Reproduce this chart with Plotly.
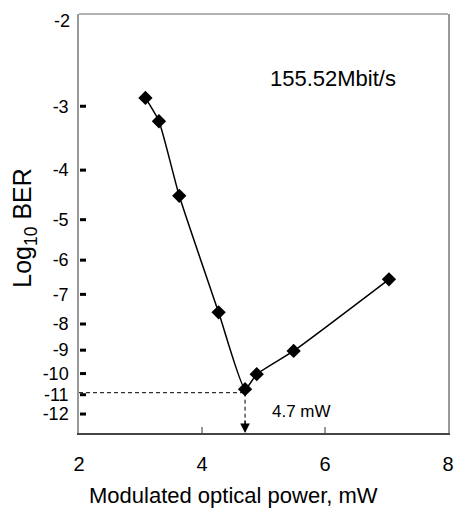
import plotly.graph_objects as go
import numpy as np

# Data: modulated optical power (mW) vs Log10 BER
power_mw = [3.08, 3.30, 3.63, 4.27, 4.70, 4.89, 5.49, 7.04]
log10_ber = [-2.89, -3.21, -4.49, -7.59, -10.73, -10.03, -9.03, -6.54]

ytick_vals = [-3, -4, -5, -6, -7, -8, -9, -10, -11, -12]
xtick_vals = [2, 4, 6, 8]
threshold_power = 4.7
threshold_ber = -10.9

FONT = "Liberation Sans, Arial, Helvetica, sans-serif"

# the axis is a log(-log BER) scale
y_plot = [-v for v in log10_ber]
y_top, y_bottom = 1.98, 13.07
yrange = [np.log10(y_bottom), np.log10(y_top)]
x_min, x_max = 2, 8

# plot area size in px (for tick-mark lengths)
W, H = 457, 508
ML, MR, MT, MB = 79, 9, 14, 75
px_per_x = (W - ML - MR) / (x_max - x_min)
px_per_logy = (H - MT - MB) / (yrange[0] - yrange[1])

fig = go.Figure()

# dashed guide lines
fig.add_trace(go.Scatter(x=[x_min, threshold_power], y=[-threshold_ber, -threshold_ber],
                         mode="lines", line=dict(color="black", width=1, dash="4px,3px"),
                         hoverinfo="skip", showlegend=False, cliponaxis=False))
fig.add_trace(go.Scatter(x=[threshold_power, threshold_power], y=[-threshold_ber, y_bottom],
                         mode="lines", line=dict(color="black", width=1, dash="4px,3px"),
                         hoverinfo="skip", showlegend=False, cliponaxis=False))

# inside tick marks on the y axis (thick, black)
ytx, yty = [], []
for v in ytick_vals:
    ytx += [x_min + 1 / px_per_x, x_min + 7 / px_per_x, None]
    yty += [-v, -v, None]
fig.add_trace(go.Scatter(x=ytx, y=yty, mode="lines", line=dict(color="black", width=3),
                         hoverinfo="skip", showlegend=False))
# inside tick marks on the x axis (thin)
xtx, xty = [], []
for v in xtick_vals[1:-1]:
    xtx += [v, v, None]
    xty += [y_bottom, 10 ** (yrange[0] - 6 / px_per_logy), None]
fig.add_trace(go.Scatter(x=xtx, y=xty, mode="lines", line=dict(color="#333", width=1),
                         hoverinfo="skip", showlegend=False))

fig.add_trace(go.Scatter(x=power_mw, y=y_plot, mode="lines+markers",
                         line=dict(color="black", width=1.5, shape="spline", smoothing=0.5),
                         marker=dict(symbol="diamond", size=11, color="black"),
                         showlegend=False, cliponaxis=False))

# arrowhead at x-axis
fig.add_annotation(x=threshold_power, y=0, xref="x", yref="paper",
                   ax=0, ay=-14, axref="pixel", ayref="pixel",
                   showarrow=True, arrowhead=2, arrowsize=1.6, arrowwidth=1.2,
                   arrowcolor="black", text="")

ann = dict(xref="paper", yref="paper", showarrow=False, xanchor="center", yanchor="middle")
fig.add_annotation(x=0.604, y=0.0525, text="4.7 mW",
                   font=dict(family=FONT, size=17, color="black"), **ann)
fig.add_annotation(x=0.688, y=0.847, text="155.52Mbit/s",
                   font=dict(family=FONT, size=22, color="black"), **ann)
fig.add_annotation(x=-0.149, y=0.49, text="Log<sub>10</sub> BER", textangle=-90,
                   font=dict(family=FONT, size=25, color="black"), **ann)
fig.add_annotation(x=0.418, y=-0.148, text="Modulated optical power, mW",
                   font=dict(family=FONT, size=22, color="black"), **ann)
fig.add_annotation(x=-0.019, y=0.983, text="-2", xref="paper", yref="paper",
                   showarrow=False, xanchor="right", yanchor="middle",
                   font=dict(family=FONT, size=18, color="black"))

# top border (gray)
fig.add_shape(type="line", xref="paper", yref="paper", x0=0, x1=1, y0=1, y1=1,
              line=dict(color="#999999", width=1.5))

fig.update_layout(
    width=W, height=H, margin=dict(l=ML, r=MR, t=MT, b=MB),
    plot_bgcolor="white", paper_bgcolor="white",
    xaxis=dict(range=[x_min, x_max], tickvals=xtick_vals, ticktext=[str(v) for v in xtick_vals],
               showgrid=False, zeroline=False, automargin=False, ticks="",
               ticklabelstandoff=12,
               showline=True, linecolor="#444", linewidth=1.5,
               tickfont=dict(family=FONT, size=20, color="black")),
    yaxis=dict(type="log", range=yrange, tickvals=[-v for v in ytick_vals],
               ticktext=[str(v) for v in ytick_vals],
               showgrid=False, zeroline=False, automargin=False, ticks="",
               ticklabelstandoff=5,
               showline=True, linecolor="#999999", linewidth=1.5, mirror=True,
               tickfont=dict(family=FONT, size=18, color="black")),
)

fig.write_html("out.html", config={"displayModeBar": False},
               post_script="document.body.style.margin='0';document.body.style.padding='0';")
